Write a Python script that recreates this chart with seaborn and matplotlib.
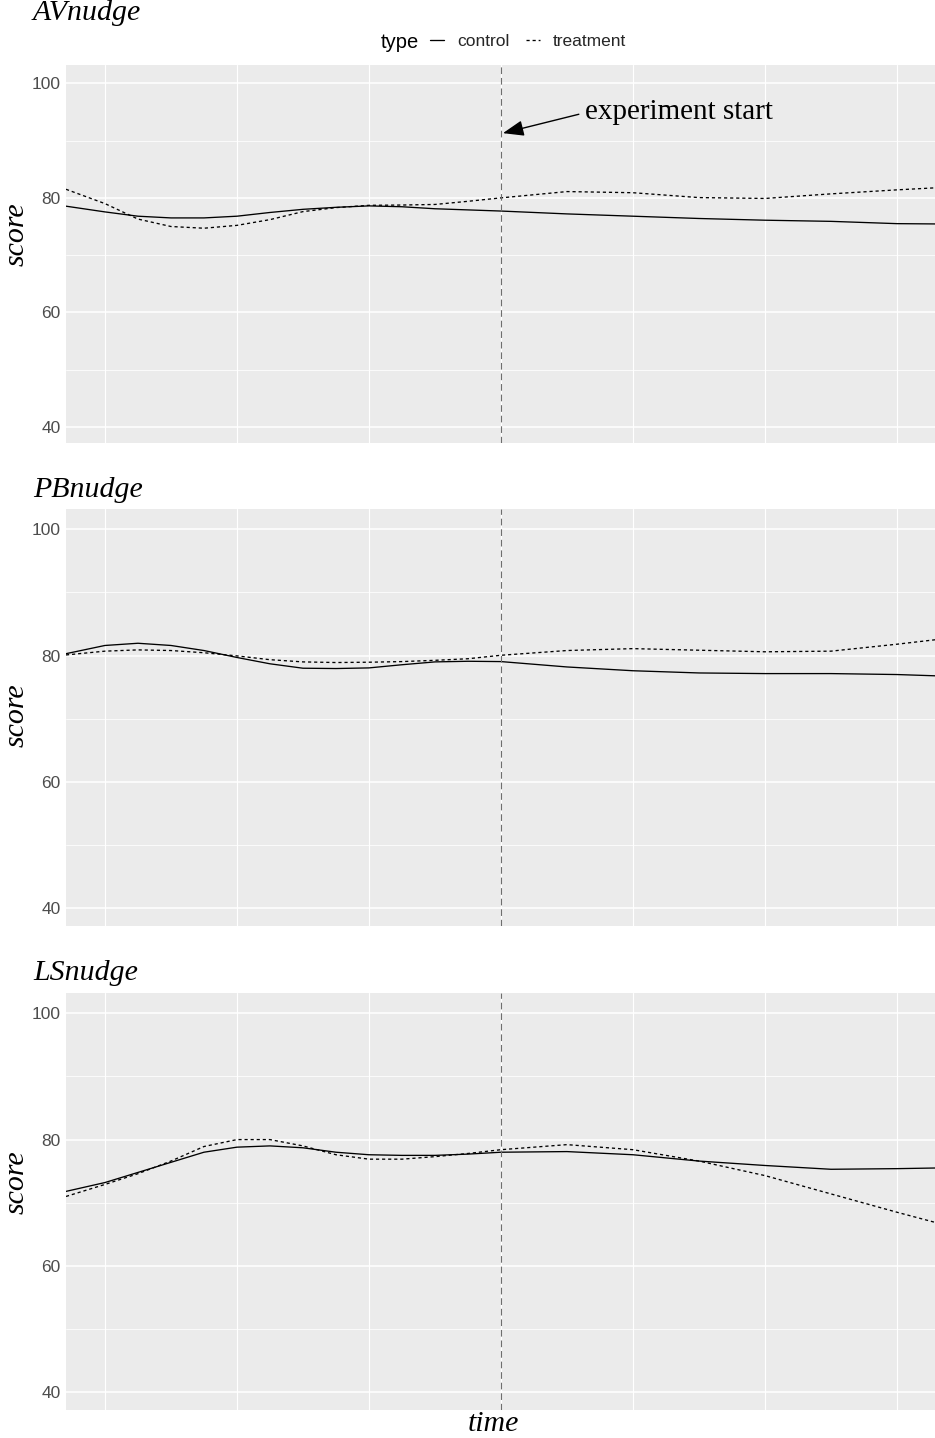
import numpy as np
import pandas as pd
import matplotlib
matplotlib.use("Agg")
import matplotlib.pyplot as plt
from matplotlib.lines import Line2D
import seaborn as sns

# ---------------- data ----------------
time = [-0.295, 0.0, 0.25, 0.5, 0.75, 1.0, 1.25, 1.5, 1.75, 2.0, 2.25, 2.5, 2.75,
        3.0, 3.5, 4.0, 4.5, 5.0, 5.5, 6.0, 6.288]

panels = ["AVnudge", "PBnudge", "LSnudge"]
types = ["control", "treatment"]

av_control = [78.55, 77.55, 76.8, 76.5, 76.5, 76.8, 77.45, 78.0, 78.35, 78.6, 78.45, 78.1, 77.9,
              77.7, 77.2, 76.8, 76.4, 76.1, 75.9, 75.5, 75.45]
av_treatment = [81.5, 79.0, 76.3, 75.0, 74.7, 75.2, 76.2, 77.6, 78.3, 78.7, 78.75, 78.85, 79.4,
                80.0, 81.1, 80.9, 80.05, 79.9, 80.7, 81.4, 81.75]

pb_control = [80.3, 81.6, 81.95, 81.6, 80.8, 79.7, 78.7, 78.0, 77.95, 78.05, 78.55, 79.0, 79.1,
              79.05, 78.2, 77.6, 77.25, 77.15, 77.15, 77.0, 76.8]
pb_treatment = [80.1, 80.7, 80.9, 80.8, 80.45, 79.95, 79.35, 79.0, 78.9, 78.95, 79.05, 79.25, 79.5,
                80.05, 80.8, 81.1, 80.85, 80.6, 80.7, 81.8, 82.5]

ls_control = [71.8, 73.2, 74.8, 76.4, 78.0, 78.8, 79.0, 78.7, 78.0, 77.6, 77.5, 77.5, 77.7,
              78.0, 78.1, 77.6, 76.6, 75.9, 75.3, 75.4, 75.5]
ls_treatment = [71.0, 72.9, 74.6, 76.6, 78.9, 80.0, 80.0, 79.0, 77.6, 76.9, 76.9, 77.3, 77.8,
                78.4, 79.2, 78.4, 76.6, 74.3, 71.4, 68.5, 66.9]

series = {
    "AVnudge": (av_control, av_treatment),
    "PBnudge": (pb_control, pb_treatment),
    "LSnudge": (ls_control, ls_treatment),
}

experiment_start = 3.0
y_ticks = [40, 60, 80, 100]
y_minor = [50, 70, 90]
x_grid = [0, 1, 2, 3, 4, 5, 6]

# ---------------- figure ----------------
sns.set_theme(style="darkgrid")
plt.rcParams["font.family"] = ["Liberation Sans", "DejaVu Sans"]

W, H = 935, 1438
fig = plt.figure(figsize=(W / 100, H / 100), dpi=100)

# panel boxes in pixels: (left, top, right, bottom)
boxes = [(66, 65, 935, 443), (66, 509, 935, 926), (66, 993, 935, 1410)]
title_y = [13, 490, 973]
ylabel_y = [234, 715, 1182]

serif = ["Liberation Serif", "DejaVu Serif"]
dot_pattern = (2.4, 2.2)
dashes = {"control": "", "treatment": dot_pattern}

for i, name in enumerate(panels):
    l, t, r, b = boxes[i]
    ax = fig.add_axes([l / W, 1 - b / H, (r - l) / W, (b - t) / H])
    ctrl, trt = series[name]
    df = pd.DataFrame({
        "time": time + time,
        "score": ctrl + trt,
        "type": ["control"] * len(time) + ["treatment"] * len(time),
    })
    ax.set_facecolor("#EBEBEB")
    ax.set_axisbelow(True)
    sns.lineplot(data=df, x="time", y="score", style="type", style_order=types,
                 dashes=dashes, color="black", linewidth=0.95, estimator=None,
                 sort=False, legend=False, ax=ax)
    for ln in ax.get_lines():
        ln.set_solid_joinstyle("round")
        ln.set_dash_joinstyle("round")
    ax.axvline(experiment_start, color="#6E6E6E", lw=0.8, ls=(0, (6, 3.5)))

    ax.set_xlim(-0.295, 6.288)
    ax.set_ylim(37.2, 103.2)
    ax.set_xticks(x_grid)
    ax.set_xticklabels([])
    ax.set_yticks(y_ticks)
    ax.set_yticks(y_minor, minor=True)
    ax.set_yticklabels([str(v) for v in y_ticks])
    ax.tick_params(axis="both", which="both", length=0)
    ax.tick_params(axis="y", labelsize=12.5, labelcolor="#4D4D4D", pad=4)
    ax.grid(False)
    ax.xaxis.grid(True, which="major", color="white", lw=0.85)
    ax.yaxis.grid(True, which="major", color="white", lw=1.1)
    ax.yaxis.grid(True, which="minor", color="white", lw=0.55)
    for s in ax.spines.values():
        s.set_visible(False)
    ax.set_xlabel("")
    ax.set_ylabel("")

    fig.text(33 / W, 1 - title_y[i] / H, name, family=serif, style="italic",
             fontsize=21.5, ha="left", va="center", color="black")
    fig.text(17 / W, 1 - ylabel_y[i] / H, "score", family=serif, style="italic",
             fontsize=21.5, ha="center", va="center", rotation=90, color="black")

    if i == 0:
        ax.annotate("", xy=(3.015, 91.3), xytext=(3.59, 94.6),
                    arrowprops=dict(arrowstyle="-|>,head_length=0.85,head_width=0.32",
                                    color="black", lw=1.0, mutation_scale=15,
                                    shrinkA=0, shrinkB=0))
        ax.text(3.636, 95.0, "experiment start", family=serif, fontsize=21,
                ha="left", va="center", color="black")

fig.text(493 / W, 1 - 1424 / H, "time", family=serif, style="italic",
         fontsize=21.5, ha="center", va="center", color="black")

# legend
fig.text(381 / W, 1 - 43 / H, "type", fontsize=14.5, ha="left", va="center", color="black")
handles = [Line2D([], [], color="black", lw=0.95, ls="-"),
           Line2D([], [], color="black", lw=0.95, ls=(0, dot_pattern))]
leg = fig.legend(handles, types, loc="center left", bbox_to_anchor=(430 / W, 1 - 41 / H),
                 ncol=2, frameon=False, fontsize=12.5, handlelength=0.8,
                 handletextpad=0.75, columnspacing=0.95, borderpad=0, borderaxespad=0)

fig.savefig("out.png", dpi=100, facecolor="white")
